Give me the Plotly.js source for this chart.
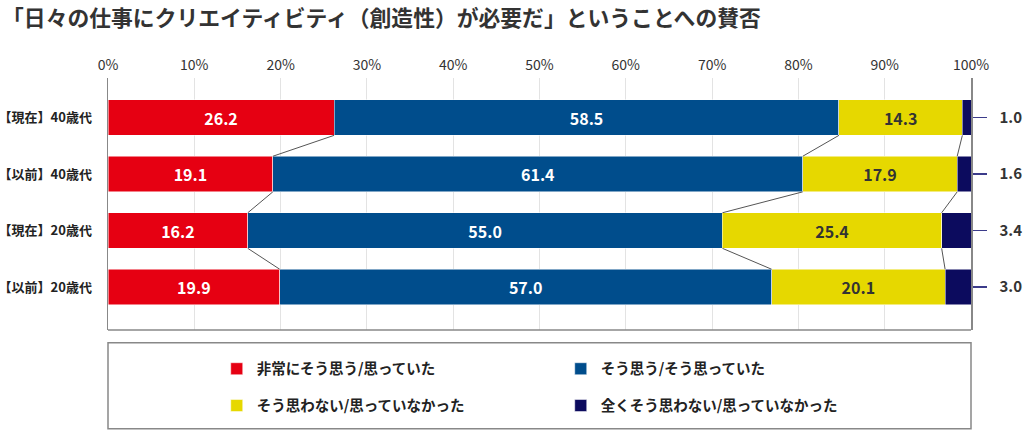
<!DOCTYPE html>
<html>
<head>
<meta charset="utf-8">
<script src="https://cdn.plot.ly/plotly-3.0.1.min.js"></script>
<style>html,body{margin:0;padding:0;background:#fff}#myDiv{width:1024px;height:433px}</style>
</head>
<body>
<div id="myDiv"></div>
<script>
var groups = ['【現在】40歳代', '【以前】40歳代', '【現在】20歳代', '【以前】20歳代'];
var seriesNames = ['非常にそう思う/思っていた', 'そう思う/そう思っていた', 'そう思わない/思っていなかった', '全くそう思わない/思っていなかった'];
var stronglyAgree = [26.2, 19.1, 16.2, 19.9];
var agree = [58.5, 61.4, 55.0, 57.0];
var disagree = [14.3, 17.9, 25.4, 20.1];
var stronglyDisagree = [1.0, 1.6, 3.4, 3.0];

var colors = ['#e60012', '#004d8c', '#e6d800', '#0c0b5e'];
var textColors = ['#ffffff', '#ffffff', '#333333', '#ffffff'];
var series = [stronglyAgree, agree, disagree, stronglyDisagree];
var rows = groups.map(function(g, i) { return i; });
var barW = 0.63;
var font = 'Noto Sans CJK JP, Noto Sans, sans-serif';

var data = series.map(function(vals, k) {
	return {
		type: 'bar', orientation: 'h',
		name: seriesNames[k], x: vals, y: rows, width: barW,
		marker: {color: colors[k], line: {color: '#ffffff', width: 0.5}},
		texttemplate: k === 3 ? '' : '%{x:.1f}',
		textposition: k === 3 ? 'none' : 'inside',
		insidetextanchor: 'middle',
		textfont: {family: font, size: 16, weight: 'bold', color: textColors[k]},
		hoverinfo: 'x+name',
		legend: k < 2 ? 'legend' : 'legend2'
	};
});

// connector lines between segment boundaries of neighbouring rows
for (var b = 0; b < 3; b++) {
	var cum = rows.map(function(i) {
		var s = 0;
		for (var k = 0; k <= b; k++) s += series[k][i];
		return s;
	});
	var lx = [], ly = [];
	for (var i = 0; i < rows.length - 1; i++) {
		lx.push(cum[i], cum[i + 1], null);
		ly.push(rows[i] + barW / 2, rows[i + 1] - barW / 2, null);
	}
	data.push({type: 'scatter', mode: 'lines', x: lx, y: ly, yaxis: 'y2',
		line: {color: '#555555', width: 1}, showlegend: false, hoverinfo: 'skip'});
}

var yRange = [3.76, -0.70];
var legendFont = {family: font, size: 14.5, weight: 'bold', color: '#222222'};

var layout = {
	width: 1024, height: 433,
	margin: {l: 108, r: 53, t: 78, b: 101},
	barmode: 'stack',
	paper_bgcolor: '#ffffff', plot_bgcolor: '#ffffff',
	font: {family: font, color: '#333333'},
	title: {text: '「日々の仕事にクリエイティビティ（創造性）が必要だ」ということへの賛否',
		x: 0.002, xref: 'container', xanchor: 'left', y: 0.958, yref: 'container', yanchor: 'middle',
		font: {family: font, size: 21.8, weight: 'bold', color: '#333333'}},
	xaxis: {range: [0, 100], side: 'top', dtick: 10, ticksuffix: '%',
		showgrid: true, gridcolor: '#e3e3e3', gridwidth: 1, zeroline: false,
		showline: false, ticks: '', ticklabelstandoff: 4,
		tickfont: {family: font, size: 14, color: '#333333'}, fixedrange: true},
	yaxis: {range: yRange, tickvals: rows, ticktext: groups, showgrid: false, zeroline: false,
		showline: true, linecolor: '#888888', linewidth: 1.5, ticks: '', ticklabelstandoff: 12,
		tickfont: {family: font, size: 13, weight: 'bold', color: '#222222'}},
	yaxis2: {range: yRange, overlaying: 'y', side: 'right', tickvals: rows,
		ticktext: stronglyDisagree.map(function(v) { return v.toFixed(1); }),
		showgrid: false, zeroline: false, showline: true, linecolor: '#888888', linewidth: 1.5,
		ticks: 'outside', ticklen: 14, tickwidth: 1.5, tickcolor: '#3b3b8a', ticklabelstandoff: 10,
		tickfont: {family: font, size: 15, weight: 'bold', color: '#333333'}},
	legend: {orientation: 'h', traceorder: 'normal', x: 0.126, xanchor: 'left', y: -0.154, yanchor: 'middle',
		entrywidth: 299, itemwidth: 30, font: legendFont,
		bgcolor: 'rgba(0,0,0,0)', itemclick: false, itemdoubleclick: false},
	legend2: {orientation: 'h', traceorder: 'normal', x: 0.126, xanchor: 'left', y: -0.300, yanchor: 'middle',
		entrywidth: 299, itemwidth: 30, font: legendFont,
		bgcolor: 'rgba(0,0,0,0)', itemclick: false, itemdoubleclick: false},
	shapes: [
		{type: 'line', xref: 'paper', yref: 'paper', x0: 0, x1: 1, y0: 0, y1: 0,
			line: {color: '#888888', width: 1.5}},
		{type: 'rect', xref: 'paper', yref: 'paper', x0: 0, x1: 1, y0: -0.051, y1: -0.392,
			line: {color: '#888888', width: 1.5}}
	]
};

Plotly.newPlot('myDiv', data, layout, {displayModeBar: false, staticPlot: true});
</script>
</body>
</html>
